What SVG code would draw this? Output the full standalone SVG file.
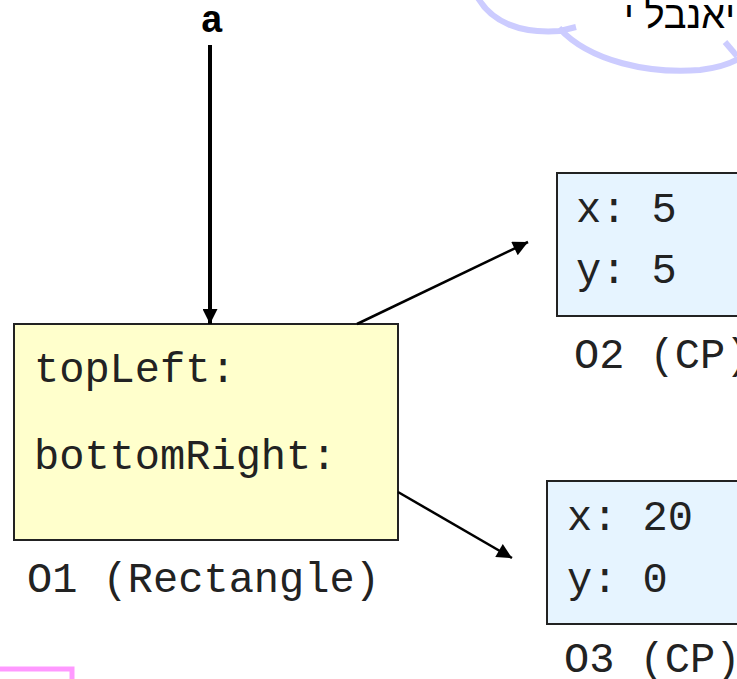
<svg xmlns="http://www.w3.org/2000/svg" width="737" height="679" viewBox="0 0 737 679">
<style>
.mono{font-family:"Liberation Mono","Courier New",monospace;font-size:42px;fill:#222}
.box{stroke:#222;stroke-width:2}
.conn{stroke:#000;fill:none}
.cloud{fill:none;stroke:#CCCCFF;stroke-width:6;stroke-linecap:butt}
</style>
<defs>
<marker id="ah" viewBox="0 0 10 10" refX="10" refY="5" markerWidth="17" markerHeight="15" markerUnits="userSpaceOnUse" orient="auto">
<path d="M0,0 L10,5 L0,10 z" fill="#000"/>
</marker>
</defs>
<rect width="737" height="679" fill="#fff"/>
<g id="cloud">
<path class="cloud" d="M478,-2 C492,22 520,34 560,31 L576,27"/>
<path class="cloud" d="M559,28 C590,62 650,74 700,70 C718,68 730,64 740,58"/>
<path class="cloud" d="M725,42 L737,56"/>
<text x="624" y="28" font-family="Liberation Sans, DejaVu Sans, sans-serif" font-size="38" fill="#000">&#x202D;י לבנאי&#x202C;</text>
</g>
<g id="pink">
<path d="M0,669 L72,669 L72,681" fill="none" stroke="#FF99FF" stroke-width="5"/>
</g>
<g id="var-a">
<text x="212" y="32" text-anchor="middle" font-family="Liberation Mono, Courier New, monospace" font-size="38" font-weight="bold" fill="#000">a</text>
</g>
<g id="O1">
<rect class="box" x="14" y="324" width="384" height="216" fill="#FFFFCC"/>
<text class="mono" x="34" y="382">topLeft:</text>
<text class="mono" x="34" y="469">bottomRight:</text>
<text class="mono" x="27" y="592">O1 (Rectangle)</text>
</g>
<g id="O2">
<rect class="box" x="557" y="173" width="190" height="143" fill="#E6F4FF"/>
<text class="mono" x="576" y="222">x: 5</text>
<text class="mono" x="576" y="283">y: 5</text>
<text class="mono" x="574" y="368">O2 (CP)</text>
</g>
<g id="O3">
<rect class="box" x="547" y="481" width="200" height="143" fill="#E6F4FF"/>
<text class="mono" x="567" y="530">x: 20</text>
<text class="mono" x="567" y="592">y: 0</text>
<text class="mono" x="564" y="672">O3 (CP)</text>
</g>
<g id="connectors">
<line class="conn" x1="210" y1="45" x2="210" y2="324" stroke-width="4" marker-end="url(#ah)"/>
<line class="conn" x1="357" y1="324" x2="528" y2="242" stroke-width="2.5" marker-end="url(#ah)"/>
<line class="conn" x1="398" y1="492" x2="512" y2="558" stroke-width="2.5" marker-end="url(#ah)"/>
</g>
</svg>
